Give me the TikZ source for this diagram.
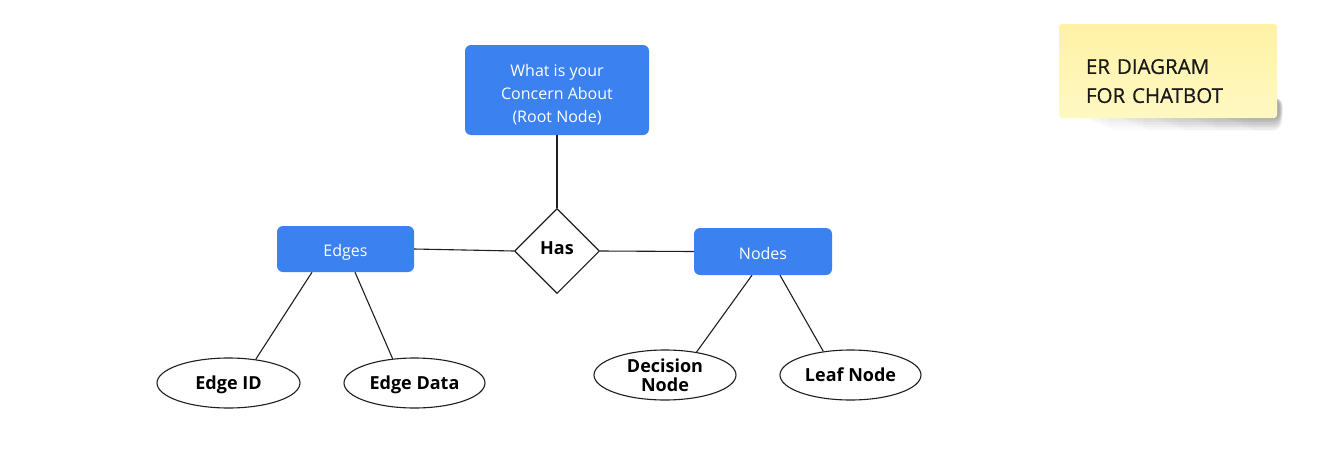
\documentclass[tikz,border=0pt]{standalone}
\usepackage{fontspec}
\setmainfont{Open Sans}
\newfontfamily\notefont{Open Sans}[FakeBold=0.5]
\usetikzlibrary{shapes.geometric}
\definecolor{boxblue}{RGB}{59,130,240}
\definecolor{notetop}{RGB}{255,242,165}
\definecolor{notebot}{RGB}{255,248,195}
\definecolor{inkline}{RGB}{30,30,30}
\begin{document}
\begin{tikzpicture}[x=1pt,y=-1pt,
  entity/.style={fill=boxblue, rounded corners=6pt, text=white,
    font=\fontsize{16}{23}\selectfont, align=center, inner sep=0pt},
  attr/.style={ellipse, draw=inkline, line width=1.1pt, fill=white,
    font=\bfseries\fontsize{18}{19}\selectfont, minimum width=143pt,
    minimum height=50pt, inner sep=0pt, align=center},
  rel/.style={diamond, aspect=1, draw=inkline, line width=1.1pt,
    minimum width=85pt, minimum height=85pt, inner sep=0pt,
    font=\bfseries\fontsize{18}{20}\selectfont},
  conn/.style={draw=inkline, line width=1.1pt},
  note/.style={top color=notetop, bottom color=notebot, draw=none,
    rounded corners=3pt, minimum width=218pt, minimum height=94pt,
    text width=164pt, inner xsep=27pt, align=left,
    font=\notefont\fontsize{20.5}{29}\selectfont, text=black!90},
  shadowlayer/.style={fill=black, opacity=0.017, rounded corners=8pt}
]
\useasboundingbox (0,0) rectangle (1319,474);

% soft shadow of the sticky note
\foreach \i in {0,...,24}{
  \pgfmathsetmacro{\sl}{1080+7*\i}
  \pgfmathsetmacro{\sr}{1283-0.15*\i}
  \pgfmathsetmacro{\sb}{119+mod(\i,5)*2.8}
  \fill[shadowlayer] (\sl,98) rectangle (\sr,\sb);
}

\node[note] (title) at (1168,71) {\rule{0pt}{35pt}ER DIAGRAM\\FOR CHATBOT};

\node[entity, minimum width=184pt, minimum height=90pt, text height=68pt] (root) at (557,90)
  {What is your\\Concern About\\(Root Node)};
\node[rel, text depth=6pt] (has) at (557,251) {Has};
\node[entity, minimum width=137pt, minimum height=46pt, text height=18pt] (edges) at (345.5,249) {Edges};
\node[entity, minimum width=138pt, minimum height=47pt, text height=16.5pt] (nodes) at (763,251.5) {Nodes};

\node[attr, text depth=1.5pt] (eid) at (228.5,383) {Edge ID};
\node[attr, minimum width=141pt, text depth=1.5pt] (edata) at (414.5,383) {Edge Data};
\node[attr, minimum width=142pt] (dec) at (665,375) {Decision\\Node};
\node[attr, minimum width=141pt] (leaf) at (850.5,375) {Leaf Node};

\draw[conn] (root.south) -- (has.north);
\draw[conn] (edges.east) -- (has.west);
\draw[conn] (has.east) -- (nodes.west);
\draw[conn] ([xshift=-33.5pt]edges.south) -- (eid.41);
\draw[conn] ([xshift=9.5pt]edges.south) -- (edata.132);
\draw[conn] ([xshift=-11pt]nodes.south) -- (dec.36);
\draw[conn] ([xshift=17pt]nodes.south) -- (leaf.139);
\end{tikzpicture}
\end{document}
